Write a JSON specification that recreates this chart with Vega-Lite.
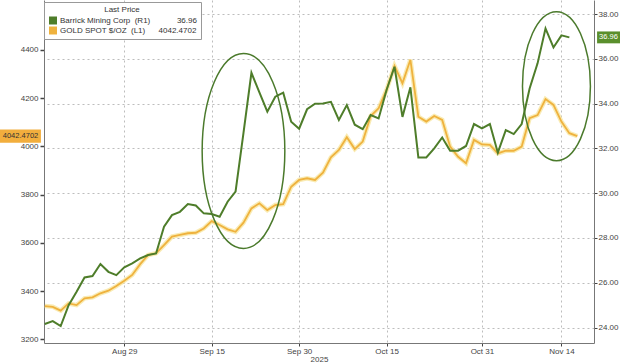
{
  "$schema": "https://vega.github.io/schema/vega-lite/v6.json",
  "width": 550,
  "height": 343,
  "autosize": {"type": "none"},
  "padding": {"left": 44, "top": 0, "right": 26, "bottom": 21},
  "background": "white",
  "config": {
    "font": "Liberation Sans",
    "view": {"stroke": null},
    "axis": {
      "labelFont": "Liberation Sans",
      "labelFontSize": 8,
      "labelColor": "#444",
      "domainColor": "#777",
      "domainWidth": 1,
      "tickColor": "#444",
      "titleFont": "Liberation Sans"
    }
  },
  "datasets": {
    "prices": [
      {"date": "2025-08-15", "gold": 3338, "barrick": 24.16},
      {"date": "2025-08-18", "gold": 3335, "barrick": 24.29},
      {"date": "2025-08-19", "gold": 3319, "barrick": 24.07},
      {"date": "2025-08-20", "gold": 3349, "barrick": 25.0},
      {"date": "2025-08-21", "gold": 3342, "barrick": 25.6},
      {"date": "2025-08-22", "gold": 3370, "barrick": 26.24},
      {"date": "2025-08-25", "gold": 3374, "barrick": 26.3},
      {"date": "2025-08-26", "gold": 3391, "barrick": 26.84},
      {"date": "2025-08-27", "gold": 3402, "barrick": 26.49},
      {"date": "2025-08-28", "gold": 3421, "barrick": 26.34},
      {"date": "2025-08-29", "gold": 3443, "barrick": 26.69},
      {"date": "2025-09-01", "gold": 3467, "barrick": 26.87},
      {"date": "2025-09-02", "gold": 3512, "barrick": 27.09},
      {"date": "2025-09-03", "gold": 3550, "barrick": 27.24},
      {"date": "2025-09-04", "gold": 3557, "barrick": 27.31},
      {"date": "2025-09-05", "gold": 3591, "barrick": 28.5},
      {"date": "2025-09-08", "gold": 3626, "barrick": 29.02},
      {"date": "2025-09-09", "gold": 3633, "barrick": 29.17},
      {"date": "2025-09-10", "gold": 3640, "barrick": 29.52},
      {"date": "2025-09-11", "gold": 3642, "barrick": 29.45},
      {"date": "2025-09-12", "gold": 3660, "barrick": 29.1},
      {"date": "2025-09-15", "gold": 3690, "barrick": 29.07},
      {"date": "2025-09-16", "gold": 3674, "barrick": 28.95},
      {"date": "2025-09-17", "gold": 3656, "barrick": 29.62},
      {"date": "2025-09-18", "gold": 3646, "barrick": 30.07},
      {"date": "2025-09-19", "gold": 3684, "barrick": 32.7},
      {"date": "2025-09-22", "gold": 3743, "barrick": 35.38},
      {"date": "2025-09-23", "gold": 3764, "barrick": 34.5},
      {"date": "2025-09-24", "gold": 3736, "barrick": 33.64},
      {"date": "2025-09-25", "gold": 3757, "barrick": 34.31},
      {"date": "2025-09-26", "gold": 3761, "barrick": 34.49},
      {"date": "2025-09-29", "gold": 3833, "barrick": 33.19},
      {"date": "2025-09-30", "gold": 3861, "barrick": 32.88},
      {"date": "2025-10-01", "gold": 3868, "barrick": 33.75},
      {"date": "2025-10-02", "gold": 3861, "barrick": 34.0},
      {"date": "2025-10-03", "gold": 3891, "barrick": 34.01},
      {"date": "2025-10-06", "gold": 3955, "barrick": 34.08},
      {"date": "2025-10-07", "gold": 3985, "barrick": 33.27},
      {"date": "2025-10-08", "gold": 4038, "barrick": 33.94},
      {"date": "2025-10-09", "gold": 3989, "barrick": 33.06},
      {"date": "2025-10-10", "gold": 4020, "barrick": 32.86},
      {"date": "2025-10-13", "gold": 4126, "barrick": 33.49},
      {"date": "2025-10-14", "gold": 4158, "barrick": 33.34},
      {"date": "2025-10-15", "gold": 4234, "barrick": 34.61},
      {"date": "2025-10-16", "gold": 4334, "barrick": 35.65},
      {"date": "2025-10-17", "gold": 4262, "barrick": 33.41},
      {"date": "2025-10-20", "gold": 4359, "barrick": 34.73},
      {"date": "2025-10-21", "gold": 4123, "barrick": 31.6},
      {"date": "2025-10-22", "gold": 4103, "barrick": 31.6},
      {"date": "2025-10-23", "gold": 4126, "barrick": 32.0},
      {"date": "2025-10-24", "gold": 4110, "barrick": 32.49},
      {"date": "2025-10-27", "gold": 3999, "barrick": 31.9},
      {"date": "2025-10-28", "gold": 3957, "barrick": 31.9},
      {"date": "2025-10-29", "gold": 3930, "barrick": 32.11},
      {"date": "2025-10-30", "gold": 4027, "barrick": 33.09},
      {"date": "2025-10-31", "gold": 4008, "barrick": 32.9},
      {"date": "2025-11-03", "gold": 4006, "barrick": 33.09},
      {"date": "2025-11-04", "gold": 3971, "barrick": 31.81},
      {"date": "2025-11-05", "gold": 3982, "barrick": 32.82},
      {"date": "2025-11-06", "gold": 3982, "barrick": 32.64},
      {"date": "2025-11-07", "gold": 3999, "barrick": 33.09},
      {"date": "2025-11-10", "gold": 4117, "barrick": 34.68},
      {"date": "2025-11-11", "gold": 4130, "barrick": 35.8},
      {"date": "2025-11-12", "gold": 4196, "barrick": 37.36},
      {"date": "2025-11-13", "gold": 4172, "barrick": 36.51},
      {"date": "2025-11-14", "gold": 4103, "barrick": 37.05},
      {"date": "2025-11-17", "gold": 4055, "barrick": 36.96},
      {"date": "2025-11-18", "gold": 4042.4702, "barrick": null}
    ],
    "circles": [
      {"date": "2025-09-19", "barrick": 31.89, "note": "a"},
      {"date": "2025-11-13", "barrick": 34.78, "note": "b"}
    ],
    "last": [
      {"series": "gold", "gold": 4042.4702},
      {"series": "barrick", "barrick": 36.96}
    ]
  },
  "encoding": {
    "x": {
      "field": "date",
      "type": "ordinal",
      "scale": {
        "type": "point",
        "padding": 0.1,
        "domain": ["2025-08-15","2025-08-18","2025-08-19","2025-08-20","2025-08-21","2025-08-22","2025-08-25","2025-08-26","2025-08-27","2025-08-28","2025-08-29","2025-09-01","2025-09-02","2025-09-03","2025-09-04","2025-09-05","2025-09-08","2025-09-09","2025-09-10","2025-09-11","2025-09-12","2025-09-15","2025-09-16","2025-09-17","2025-09-18","2025-09-19","2025-09-22","2025-09-23","2025-09-24","2025-09-25","2025-09-26","2025-09-29","2025-09-30","2025-10-01","2025-10-02","2025-10-03","2025-10-06","2025-10-07","2025-10-08","2025-10-09","2025-10-10","2025-10-13","2025-10-14","2025-10-15","2025-10-16","2025-10-17","2025-10-20","2025-10-21","2025-10-22","2025-10-23","2025-10-24","2025-10-27","2025-10-28","2025-10-29","2025-10-30","2025-10-31","2025-11-03","2025-11-04","2025-11-05","2025-11-06","2025-11-07","2025-11-10","2025-11-11","2025-11-12","2025-11-13","2025-11-14","2025-11-17","2025-11-18","2025-11-19","2025-11-20"]
      },
      "axis": {
        "values": ["2025-08-29","2025-09-15","2025-09-30","2025-10-15","2025-10-31","2025-11-14"],
        "labelExpr": "timeFormat(toDate(datum.value + 'T12:00:00'), '%b %d')",
        "labelAngle": 0,
        "tickSize": 3,
        "labelPadding": 1,
        "grid": true,
        "gridDash": [2, 3],
        "gridColor": "#bdbdbd",
        "title": "2025",
        "titleFontSize": 8,
        "titleFontWeight": "normal",
        "titleColor": "#444",
        "titlePadding": 0
      }
    }
  },
  "layer": [
    {
      "encoding": {
        "y": {
          "field": "gold",
          "type": "quantitative",
          "scale": {"domain": [3185, 4607], "nice": false, "zero": false},
          "axis": {
            "orient": "left",
            "values": [3200, 3400, 3600, 3800, 4000, 4200, 4400],
            "format": "d",
            "grid": false,
            "tickSize": 4,
            "tickWidth": 1.5,
            "labelPadding": 2,
            "title": null
          }
        }
      },
      "layer": [
        {
          "data": {"name": "prices"},
          "mark": {"type": "line", "color": "#f7e6a0", "strokeWidth": 4.5, "opacity": 0.8}
        },
        {
          "data": {"name": "prices"},
          "mark": {"type": "line", "strokeWidth": 1.8},
          "encoding": {
            "color": {
              "datum": "GOLD SPOT $/OZ  (L1)",
              "scale": {"domain": ["Barrick Mining Corp  (R1)", "GOLD SPOT $/OZ  (L1)"], "range": ["#4e7d2a", "#efb23e"]}
            }
          }
        },
        {
          "data": {"name": "last"},
          "transform": [{"filter": "datum.series == 'gold'"}],
          "mark": {"type": "point", "shape": "M-2,-0.3L-0.14,-0.3L-0.14,0.3L-2,0.3Z", "size": 1936, "filled": true, "color": "#f2ae3d", "opacity": 1},
          "encoding": {"x": {"value": 0}}
        },
        {
          "data": {"name": "last"},
          "transform": [{"filter": "datum.series == 'gold'"}],
          "mark": {"type": "text", "align": "center", "baseline": "middle", "dx": -23.5, "fontSize": 7.5, "color": "#333"},
          "encoding": {"x": {"value": 0}, "text": {"field": "gold", "type": "quantitative", "format": ".4f"}}
        }
      ]
    },
    {
      "encoding": {
        "y": {
          "field": "barrick",
          "type": "quantitative",
          "scale": {"domain": [23.31, 38.63], "nice": false, "zero": false},
          "axis": {
            "orient": "right",
            "values": [24, 26, 28, 30, 32, 34, 36, 38],
            "format": ".2f",
            "grid": true,
            "gridDash": [2, 3],
            "gridColor": "#bdbdbd",
            "tickSize": 3,
            "labelPadding": 1,
            "title": null
          }
        }
      },
      "layer": [
        {
          "data": {"name": "prices"},
          "mark": {"type": "line", "strokeWidth": 2},
          "encoding": {
            "color": {
              "datum": "Barrick Mining Corp  (R1)",
              "scale": {"domain": ["Barrick Mining Corp  (R1)", "GOLD SPOT $/OZ  (L1)"], "range": ["#4e7d2a", "#efb23e"]},
              "legend": {
                "title": "Last Price",
                "orient": "none",
                "legendX": 0,
                "legendY": 2,
                "titleAnchor": "middle",
                "titleFontSize": 8,
                "titleFontWeight": "normal",
                "titleColor": "#333",
                "titlePadding": 2,
                "labelFontSize": 8,
                "labelColor": "#333",
                "labelLimit": 300,
                "labelExpr": "datum.label == 'Barrick Mining Corp  (R1)' ? 'Barrick Mining Corp\u00a0\u00a0(R1)\u00a0\u00a0\u00a0\u00a0\u00a0\u00a0\u00a0\u00a0\u00a0\u00a0\u00a0\u00a036.96' : 'GOLD SPOT $/OZ\u00a0\u00a0(L1)\u00a0\u00a0\u00a0\u00a0\u00a0\u00a04042.4702'",
                "symbolType": "square",
                "symbolSize": 16,
                "symbolStrokeWidth": 4,
                "symbolOffset": 1,
                "labelOffset": 3,
                "clipHeight": 9,
                "rowPadding": 1,
                "padding": 4,
                "strokeColor": "#999",
                "fillColor": "white"
              }
            }
          }
        },
        {
          "data": {"name": "circles"},
          "transform": [{"filter": "datum.note == 'a'"}],
          "mark": {"type": "point", "shape": "M0,-1A0.424,1 0 1,1 0,1A0.424,1 0 1,1 0,-1Z", "size": 38025, "filled": false, "color": "#4b7a2c", "strokeWidth": 1.5, "opacity": 1}
        },
        {
          "data": {"name": "circles"},
          "transform": [{"filter": "datum.note == 'b'"}],
          "mark": {"type": "point", "shape": "M0.04,-1A0.456,1 0 1,1 0.04,1A0.456,1 0 1,1 0.04,-1Z", "size": 22201, "filled": false, "color": "#4b7a2c", "strokeWidth": 1.5, "opacity": 1}
        },
        {
          "data": {"name": "last"},
          "transform": [{"filter": "datum.series == 'barrick'"}],
          "mark": {"type": "point", "shape": "M0.14,-0.27L1.2,-0.27L1.2,0.27L0.14,0.27Z", "size": 1936, "filled": true, "color": "#5a8f2c", "opacity": 1},
          "encoding": {"x": {"value": "width"}}
        },
        {
          "data": {"name": "last"},
          "transform": [{"filter": "datum.series == 'barrick'"}],
          "mark": {"type": "text", "align": "center", "baseline": "middle", "dx": 14.5, "fontSize": 7.5, "color": "white"},
          "encoding": {"x": {"value": "width"}, "text": {"field": "barrick", "type": "quantitative", "format": ".2f"}}
        }
      ]
    }
  ],
  "resolve": {"scale": {"y": "independent"}}
}
